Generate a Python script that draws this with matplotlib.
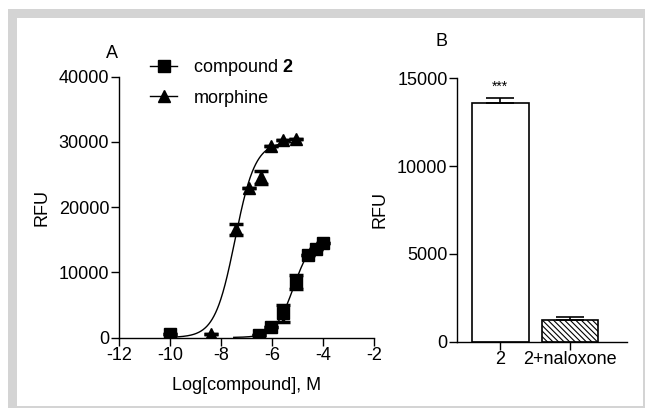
import numpy as np
import matplotlib
matplotlib.use("Agg")
import matplotlib.pyplot as plt
from matplotlib.lines import Line2D
from matplotlib.patches import Rectangle

plt.rcParams['font.family'] = ['Liberation Sans', 'DejaVu Sans']
plt.rcParams['mathtext.fontset'] = 'custom'
plt.rcParams['mathtext.rm'] = 'Liberation Sans'
plt.rcParams['mathtext.bf'] = 'Liberation Sans:bold'
plt.rcParams['hatch.linewidth'] = 0.8
plt.rcParams['axes.unicode_minus'] = False

FS = 13

# ---- Panel A data ----
morphine_x = [-8.4, -7.42, -6.92, -6.45, -6.02, -5.55, -5.07]
morphine_y = [600, 16600, 22900, 24600, 29300, 30300, 30500]
morphine_err = [0, 850, 0, 1000, 0, 0, 0]

cmpd2_x = [-10.0, -6.52, -6.04, -5.56, -5.07, -4.6, -4.27, -4.0]
cmpd2_y = [500, 350, 1600, 3700, 8500, 12700, 13600, 14500]
cmpd2_err = [0, 0, 0, 1300, 1100, 0, 0, 0]

# fitted sigmoid parameters
morphine_fit = dict(top=30000, logec50=-7.45, hill=1.1, xmin=-10.0, xmax=-5.0)
cmpd2_fit = dict(top=15500, logec50=-5.15, hill=1.2, xmin=-7.5, xmax=-4.0)

# ---- Panel B data ----
bar_labels = ['2', '2+naloxone']
bar_values = [13600, 1250]
bar_errors = [250, 150]

W, H = 645, 408
fig = plt.figure(figsize=(W / 100, H / 100), dpi=100)

# background frame
bg = fig.add_axes([0, 0, 1, 1])
bg.set_xlim(0, W); bg.set_ylim(H, 0); bg.axis('off')
bg.add_patch(Rectangle((8, 9), W - 8, H - 9, color='#d4d4d4', lw=0))
bg.add_patch(Rectangle((17, 18), 643 - 17, 406 - 18, color='white', lw=0))

def fax(l, r, t, b):
    return [l / W, 1 - b / H, (r - l) / W, (b - t) / H]

def sig(x, p):
    return p['top'] / (1 + 10 ** ((p['logec50'] - x) * p['hill']))

# ---- Panel A ----
axA = fig.add_axes(fax(119, 374, 76.7, 337.5))
for p in (morphine_fit, cmpd2_fit):
    xs = np.linspace(p['xmin'], p['xmax'], 300)
    axA.plot(xs, sig(xs, p), color='black', lw=1.0, zorder=2)
axA.errorbar(morphine_x, morphine_y, yerr=morphine_err, fmt='^', color='black',
             ms=8.5, capsize=5, capthick=2.5, elinewidth=2.5, zorder=3)
axA.errorbar(cmpd2_x, cmpd2_y, yerr=cmpd2_err, fmt='s', color='black',
             ms=8, capsize=5, capthick=2.5, elinewidth=2.5, zorder=3)
axA.set_xlim(-12, -2)
axA.set_ylim(0, 40000)
axA.set_xticks([-12, -10, -8, -6, -4, -2])
axA.set_yticks([0, 10000, 20000, 30000, 40000])
axA.set_xlabel('Log[compound], M', fontsize=FS, labelpad=9)
axA.set_ylabel('RFU', fontsize=FS, labelpad=6)
for s in ('top', 'right'):
    axA.spines[s].set_visible(False)
for s in ('left', 'bottom'):
    axA.spines[s].set_linewidth(1.0)
axA.tick_params(direction='out', length=5.5, width=1.0, labelsize=FS, pad=1.5)
axA.patch.set_alpha(0)

handles = [Line2D([], [], color='black', marker='s', ms=8, lw=1.0),
           Line2D([], [], color='black', marker='^', ms=8.5, lw=1.0)]
leg = fig.legend(handles, ['compound $\\mathbf{2}$', 'morphine'],
                 loc='upper left', bbox_to_anchor=(150 / W, 1 - 57 / H),
                 frameon=False, fontsize=FS, handlelength=1.5,
                 handletextpad=0.9, labelspacing=0.65, borderpad=0,
                 borderaxespad=0)

fig.text(111.7 / W, 1 - 53 / H, 'A', fontsize=FS, ha='center', va='center')
fig.text(441.7 / W, 1 - 41.7 / H, 'B', fontsize=FS, ha='center', va='center')

# ---- Panel B ----
axB = fig.add_axes(fax(457.3, 627, 78.3, 341.7))
pos = np.arange(len(bar_values))
axB.bar(pos[0], bar_values[0], width=0.81, color='white', edgecolor='black', lw=1.2, zorder=2)
axB.bar(pos[1], bar_values[1], width=0.81, color='white', edgecolor='black', lw=1.2,
        hatch='\\\\\\\\\\\\', zorder=2)
axB.errorbar(pos, bar_values, yerr=[[0, 0], bar_errors], fmt='none', ecolor='black',
             elinewidth=1.2, capsize=10, capthick=1.2, zorder=3)
axB.text(pos[0], bar_values[0] + bar_errors[0] + 250, '***', ha='center', va='bottom', fontsize=10)
axB.set_xlim(-0.614, 1.814)
axB.set_ylim(0, 15000)
axB.set_xticks(pos)
axB.set_xticklabels(bar_labels)
axB.set_yticks([0, 5000, 10000, 15000])
axB.set_ylabel('RFU', fontsize=FS, labelpad=6)
for s in ('top', 'right'):
    axB.spines[s].set_visible(False)
for s in ('left', 'bottom'):
    axB.spines[s].set_linewidth(1.0)
axB.tick_params(direction='out', length=5.5, width=1.0, labelsize=FS, pad=1.5)
axB.patch.set_alpha(0)

fig.savefig('out.png', dpi=100)
